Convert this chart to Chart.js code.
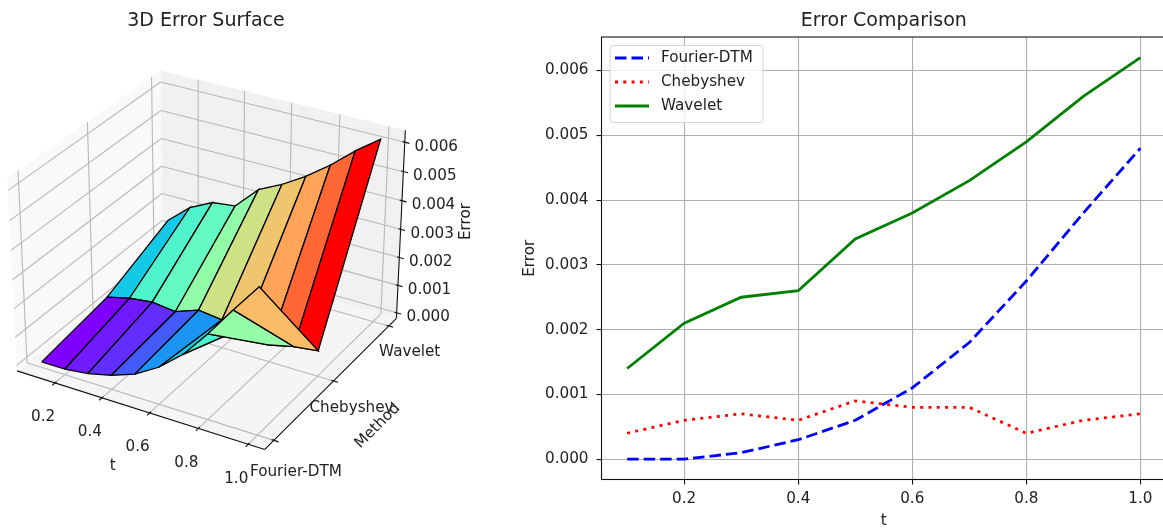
<!DOCTYPE html>
<html>
<head>
<meta charset="utf-8">
<title>Error charts</title>
<style>
  html, body { margin: 0; padding: 0; background: #fff; overflow: hidden; }
  body { width: 1163px; height: 530px; position: relative; }
  canvas { position: absolute; top: 0; }
</style>
<script src="https://cdn.jsdelivr.net/npm/chart.js@4/dist/chart.umd.min.js"></script>
</head>
<body>
<canvas id="surfaceChart" width="628" height="530" style="left:-108px"></canvas>
<canvas id="lineChart" width="650" height="530" style="left:520px"></canvas>
<script>
const tValues = [0.1, 0.2, 0.3, 0.4, 0.5, 0.6, 0.7, 0.8, 0.9, 1.0];
const fourierDtm = [0, 0, 0.0001, 0.0003, 0.0006, 0.0011, 0.0018, 0.00275, 0.0038, 0.0048];
const chebyshev = [0.0004, 0.0006, 0.0007, 0.0006, 0.0009, 0.0008, 0.0008, 0.0004, 0.0006, 0.0007];
const wavelet = [0.0014, 0.0021, 0.0025, 0.0026, 0.0034, 0.0038, 0.0043, 0.0049, 0.0056, 0.0062];
const methodNames = ["Fourier-DTM", "Chebyshev", "Wavelet"];
const tTicks3d = [0.2, 0.4, 0.6, 0.8, 1.0];
const errorTicks3d = [0, 0.001, 0.002, 0.003, 0.004, 0.005, 0.006];
const tTicks = [0.2, 0.4, 0.6, 0.8, 1.0];
const errorTicks = [0, 0.001, 0.002, 0.003, 0.004, 0.005, 0.006];

const FONT = "'DejaVu Sans', sans-serif";
const TEXT = "#222";
const TICK_SIZE = 15.2;

// 3D box limits and camera (elev 30, azim -60)
const xLim = [0.0344, 1.0656], yLim = [-0.1458, 2.1458], zLim = [-0.0002, 0.0064];
const half = [0.5952, 0.5952, 0.4755];
const camU = [0.866, 0.5, 0], camV = [-0.25, 0.433, 0.866], camN = [0.433, -0.75, 0.5];
const dot = (a, b) => a[0] * b[0] + a[1] * b[1] + a[2] * b[2];

function toBox(x, y, z) {
  return [
    (2 * (x - xLim[0]) / (xLim[1] - xLim[0]) - 1) * half[0],
    (2 * (y - yLim[0]) / (yLim[1] - yLim[0]) - 1) * half[1],
    (2 * (z - zLim[0]) / (zLim[1] - zLim[0]) - 1) * half[2]
  ];
}

function project(x, y, z) {
  const d = toBox(x, y, z);
  const w = 10 - dot(camN, d);
  return { x: dot(camU, d) / w, y: dot(camV, d) / w };
}

function depth(x, y, z) {
  return dot(camN, toBox(x, y, z));
}

// matplotlib "rainbow" colormap
function rainbow(v) {
  const r = Math.min(1, Math.abs(2 * v - 0.5));
  const g = Math.sin(Math.PI * v);
  const b = Math.cos(Math.PI * v / 2);
  return `rgb(${Math.round(r * 255)},${Math.round(g * 255)},${Math.round(b * 255)})`;
}

function shape(points, fillColor) {
  return { data: points, showLine: true, fill: "shape", backgroundColor: fillColor, borderWidth: 0, borderColor: fillColor, pointRadius: 0, tension: 0 };
}

function segment(a, b, color, width) {
  return { data: [a, b], showLine: true, fill: false, borderColor: color, borderWidth: width, pointRadius: 0, tension: 0 };
}

// panes, grid, axis lines and ticks, back to front
function buildFrame() {
  const [x0, x1] = xLim, [y0, y1] = yLim, [z0, z1] = zLim;
  const grid = "#b8b8b8", axis = "#111";
  const list = [];
  list.push(shape([project(x0, y0, z0), project(x0, y1, z0), project(x0, y1, z1), project(x0, y0, z1), project(x0, y0, z0)], "#f9f9f9"));
  list.push(shape([project(x0, y1, z0), project(x1, y1, z0), project(x1, y1, z1), project(x0, y1, z1), project(x0, y1, z0)], "#f1f1f1"));
  list.push(shape([project(x0, y0, z0), project(x1, y0, z0), project(x1, y1, z0), project(x0, y1, z0), project(x0, y0, z0)], "#f5f5f5"));

  for (const t of tTicks3d) {
    list.push(segment(project(t, y0, z0), project(t, y1, z0), grid, 1.1));
    list.push(segment(project(t, y1, z0), project(t, y1, z1), grid, 1.1));
  }
  methodNames.forEach((name, i) => {
    list.push(segment(project(x0, i, z0), project(x1, i, z0), grid, 1.1));
    list.push(segment(project(x0, i, z0), project(x0, i, z1), grid, 1.1));
  });
  for (const e of errorTicks3d) {
    list.push(segment(project(x0, y0, e), project(x0, y1, e), grid, 1.1));
    list.push(segment(project(x0, y1, e), project(x1, y1, e), grid, 1.1));
  }

  list.push(segment(project(x0, y0, z0), project(x1, y0, z0), axis, 1.1));
  list.push(segment(project(x1, y0, z0), project(x1, y1, z0), axis, 1.1));
  list.push(segment(project(x1, y1, z0), project(x1, y1, z1), axis, 1.1));

  const dy = (y1 - y0) * 0.018, dx = (x1 - x0) * 0.018;
  for (const t of tTicks3d) list.push(segment(project(t, y0 + dy / 2, z0), project(t, y0 - dy, z0), axis, 1.1));
  methodNames.forEach((name, i) => list.push(segment(project(x1 - dx / 2, i, z0), project(x1 + dx, i, z0), axis, 1.1)));
  for (const e of errorTicks3d) list.push(segment(project(x1 - dx / 2, y1, e), project(x1 + dx, y1, e), axis, 1.1));
  return list;
}

// surface cells, coloured by mean height, far to near
function buildFacets() {
  const rows = [fourierDtm, chebyshev, wavelet];
  const facets = [];
  for (let r = 0; r < rows.length - 1; r++) {
    for (let c = 0; c < tValues.length - 1; c++) {
      const corners = [[c, r], [c + 1, r], [c + 1, r + 1], [c, r + 1]].map(([i, j]) => [tValues[i], j, rows[j][i]]);
      facets.push({
        corners,
        avg: corners.reduce((s, p) => s + p[2], 0) / 4,
        near: corners.reduce((s, p) => s + depth(p[0], p[1], p[2]), 0) / 4
      });
    }
  }
  const lo = Math.min(...facets.map(f => f.avg));
  const hi = Math.max(...facets.map(f => f.avg));
  facets.sort((a, b) => a.near - b.near);
  return facets.map(f => {
    const pts = f.corners.map(p => project(p[0], p[1], p[2]));
    pts.push(pts[0]);
    const ds = shape(pts, rainbow((f.avg - lo) / (hi - lo)));
    ds.borderColor = "#000";
    ds.borderWidth = 1.3;
    return ds;
  });
}

// labels around the 3D box, placed from projected tick positions
const surfaceLabels = {
  id: "surfaceLabels",
  afterDraw(chart) {
    const { ctx, scales } = chart;
    const put = (p, ox, oy, text, angle) => {
      ctx.save();
      ctx.translate(scales.x.getPixelForValue(p.x) + ox, scales.y.getPixelForValue(p.y) + oy);
      if (angle) ctx.rotate(angle);
      ctx.fillText(text, 0, 0);
      ctx.restore();
    };
    ctx.save();
    ctx.font = TICK_SIZE + "px " + FONT;
    ctx.fillStyle = TEXT;
    ctx.textAlign = "center";
    ctx.textBaseline = "middle";
    const [x0, x1] = xLim, [y0, y1] = yLim, [z0, z1] = zLim;
    const methodOffsets = [[22, 32], [18, 27], [21, 26]];
    for (const t of tTicks3d) put(project(t, y0, z0), -12, 34.5, t.toFixed(1));
    methodNames.forEach((name, i) => put(project(x1, i, z0), methodOffsets[i][0], methodOffsets[i][1], name));
    for (const e of errorTicks3d) put(project(x1, y1, e), 31.5, 4.5, e.toFixed(3));
    put(project((x0 + x1) / 2, y0, z0), -25, 57, "t");
    put(project(x1, (y0 + y1) / 2, z0), 44, 45, "Method", -Math.PI / 4);
    put(project(x1, y1, (z0 + z1) / 2), 65, -5, "Error", -Math.PI / 2);
    ctx.restore();
  }
};

// frame and inset legend of the line chart
const lineFrame = {
  id: "lineFrame",
  afterDatasetsDraw(chart) {
    const { ctx, chartArea: a } = chart;
    ctx.save();
    ctx.strokeStyle = "#111";
    ctx.lineWidth = 1.1;
    ctx.strokeRect(a.left, a.top, a.right - a.left, a.bottom - a.top);

    const bx = a.left + 8.5, by = a.top + 8.5, bw = 153, bh = 77;
    ctx.beginPath();
    ctx.roundRect(bx, by, bw, bh, 3);
    ctx.fillStyle = "rgba(255,255,255,0.8)";
    ctx.fill();
    ctx.strokeStyle = "rgba(204,204,204,0.8)";
    ctx.lineWidth = 1;
    ctx.stroke();

    ctx.font = TICK_SIZE + "px " + FONT;
    ctx.textBaseline = "middle";
    chart.data.datasets.forEach((ds, i) => {
      const y = by + 12.5 + i * 24;
      ctx.beginPath();
      ctx.setLineDash(ds.borderDash || []);
      ctx.strokeStyle = ds.borderColor;
      ctx.lineWidth = ds.borderWidth;
      ctx.moveTo(bx + 5, y);
      ctx.lineTo(bx + 39, y);
      ctx.stroke();
      ctx.setLineDash([]);
      ctx.fillStyle = TEXT;
      ctx.fillText(ds.label, bx + 51, y);
    });
    ctx.restore();
  }
};

const titleOptions = text => ({
  display: true,
  text: text,
  color: TEXT,
  fullSize: false,
  font: { family: FONT, size: 19, weight: "normal", lineHeight: 1.2 },
  padding: { top: 10, bottom: 4.2 }
});

new Chart(document.getElementById("surfaceChart"), {
  type: "scatter",
  // the first dataset is painted last, so nearest facet goes first
  data: { datasets: buildFacets().reverse().concat(buildFrame().reverse()) },
  options: {
    responsive: false,
    animation: false,
    layout: { padding: 0 },
    plugins: { legend: { display: false }, tooltip: { enabled: false }, title: titleOptions("3D Error Surface") },
    scales: {
      x: { display: false, min: -0.13326, max: 0.12973 },
      y: { display: false, min: -0.1207, max: 0.09272 }
    }
  },
  plugins: [surfaceLabels]
});

const xyPairs = values => values.map((v, i) => ({ x: tValues[i], y: v }));
const tickFont = { family: FONT, size: TICK_SIZE };

new Chart(document.getElementById("lineChart"), {
  type: "line",
  data: {
    datasets: [
      { label: methodNames[0], data: xyPairs(fourierDtm), borderColor: "#0000ff", borderWidth: 2.8, borderDash: [11.5, 5], pointRadius: 0, tension: 0, fill: false },
      { label: methodNames[1], data: xyPairs(chebyshev), borderColor: "#ff0000", borderWidth: 2.8, borderDash: [3, 5.3], pointRadius: 0, tension: 0, fill: false },
      { label: methodNames[2], data: xyPairs(wavelet), borderColor: "#008000", borderWidth: 2.8, pointRadius: 0, tension: 0, fill: false }
    ]
  },
  options: {
    responsive: false,
    animation: false,
    layout: { padding: { right: 4, left: 0, top: 0, bottom: 0 } },
    plugins: { legend: { display: false }, tooltip: { enabled: false }, title: titleOptions("Error Comparison") },
    scales: {
      x: {
        type: "linear",
        min: 0.055,
        max: 1.045,
        afterBuildTicks: s => { s.ticks = tTicks.map(v => ({ value: v })); },
        afterFit: s => { s.height = 50.5; },
        border: { display: false },
        grid: { color: "#b0b0b0", lineWidth: 1.1, tickLength: 5, tickColor: "#111" },
        ticks: { color: TEXT, font: tickFont, padding: 5, maxRotation: 0, autoSkip: false, callback: v => v.toFixed(1) },
        title: { display: true, text: "t", color: TEXT, font: tickFont, padding: 0 }
      },
      y: {
        min: -0.000314,
        max: 0.006518,
        afterBuildTicks: s => { s.ticks = errorTicks.map(v => ({ value: v })); },
        afterFit: s => { s.width = 81.5; },
        border: { display: false },
        grid: { color: "#b0b0b0", lineWidth: 1.1, tickLength: 5, tickColor: "#111" },
        ticks: { color: TEXT, font: tickFont, padding: 8, autoSkip: false, callback: v => v.toFixed(3) },
        title: { display: true, text: "Error", color: TEXT, font: tickFont, padding: { top: 1, bottom: 0 } }
      }
    }
  },
  plugins: [lineFrame]
});
</script>
</body>
</html>
